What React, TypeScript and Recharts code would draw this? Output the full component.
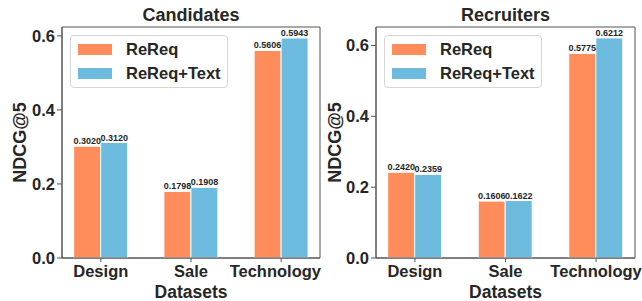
import React from 'react';
import { BarChart, Bar, XAxis, YAxis, LabelList, ReferenceArea } from 'recharts';

const categories = ['Design', 'Sale', 'Technology'];
const positions = [0, 1, 2];
const candidatesReReq = [0.302, 0.1798, 0.5606];
const candidatesText = [0.312, 0.1908, 0.5943];
const recruitersReReq = [0.242, 0.1606, 0.5775];
const recruitersText = [0.2359, 0.1622, 0.6212];
const yTicks = [0, 0.2, 0.4, 0.6];

const ORANGE = '#FF8C5A';
const BLUE = '#6EBBE0';
const TEXT = '#262626';
const FRAME = '#555555';
const FONT = '"Liberation Sans", Arial, sans-serif';

const X_DOMAIN: [number, number] = [-0.43, 2.43];

const buildRows = (a: number[], b: number[]) =>
    positions.map((x, i) => ({ x, name: categories[i], rereq: a[i], text: b[i] }));

interface PanelProps {
    title: string;
    rows: { x: number; name: string; rereq: number; text: number }[];
    yMax: number;
    yAxisWidth: number;
    rightMargin: number;
    labelDx: number;
    left: number;
}

const Panel: React.FC<PanelProps> = ({ title, rows, yMax, yAxisWidth, rightMargin, labelDx, left }) => {
    const plotLeft = yAxisWidth;
    const plotWidth = 321 - yAxisWidth - rightMargin;
    return (
        <div style={{ position: 'absolute', left, top: 0, width: 321, height: 301 }}>
            <div
                style={{
                    position: 'absolute',
                    left: plotLeft,
                    width: plotWidth,
                    top: 5,
                    textAlign: 'center',
                    fontFamily: FONT,
                    fontWeight: 'bold',
                    fontSize: 18,
                    color: TEXT,
                    lineHeight: '20px',
                }}
            >
                {title}
            </div>
            <BarChart
                width={321}
                height={301}
                data={rows}
                margin={{ top: 27, right: rightMargin, bottom: 0, left: 0 }}
                barGap={0}
            >
                <XAxis
                    type="number"
                    dataKey="x"
                    domain={X_DOMAIN}
                    allowDataOverflow
                    ticks={positions}
                    tickFormatter={(v: number) => categories[v] ?? ''}
                    height={43}
                    tickSize={4}
                    tickMargin={3}
                    stroke={FRAME}
                    tick={{ fill: TEXT, fontSize: 16.5, fontWeight: 'bold', fontFamily: FONT }}
                    label={{ value: 'Datasets', position: 'insideBottom', offset: 3, fill: TEXT, fontSize: 17.5, fontWeight: 'bold', fontFamily: FONT }}
                />
                <YAxis
                    domain={[0, yMax]}
                    allowDataOverflow
                    ticks={yTicks}
                    tickFormatter={(v: number) => v.toFixed(1)}
                    width={yAxisWidth}
                    tickSize={5}
                    tickMargin={2}
                    stroke={FRAME}
                    tick={{ fill: TEXT, fontSize: 16.5, fontWeight: 'bold', fontFamily: FONT }}
                    label={{ value: 'NDCG@5', angle: -90, position: 'center', dx: labelDx, fill: TEXT, fontSize: 18, fontWeight: 'bold', fontFamily: FONT }}
                />
                <ReferenceArea x1={X_DOMAIN[0]} x2={X_DOMAIN[1]} y1={0} y2={yMax} fill="none" stroke={FRAME} strokeWidth={1} />
                <Bar dataKey="rereq" name="ReReq" fill={ORANGE} stroke="#ffffff" strokeWidth={1} barSize={27} isAnimationActive={false}>
                    <LabelList dataKey="rereq" position="top" offset={2} formatter={(v: number) => v.toFixed(4)} style={{ fill: TEXT, fontSize: 9, fontWeight: 'bold', fontFamily: FONT }} />
                </Bar>
                <Bar dataKey="text" name="ReReq+Text" fill={BLUE} stroke="#ffffff" strokeWidth={1} barSize={27} isAnimationActive={false}>
                    <LabelList dataKey="text" position="top" offset={2} formatter={(v: number) => v.toFixed(4)} style={{ fill: TEXT, fontSize: 9, fontWeight: 'bold', fontFamily: FONT }} />
                </Bar>
            </BarChart>
            <div
                style={{
                    position: 'absolute',
                    left: plotLeft + 8,
                    top: 35,
                    width: 156,
                    height: 51,
                    border: '1px solid #d6d6d6',
                    borderRadius: 4,
                    background: 'rgba(255,255,255,0.8)',
                    fontFamily: FONT,
                    fontWeight: 'bold',
                    fontSize: 16.5,
                    color: TEXT,
                }}
            >
                {[
                    { label: 'ReReq', color: ORANGE, top: 7 },
                    { label: 'ReReq+Text', color: BLUE, top: 31 },
                ].map((item) => (
                    <div key={item.label} style={{ position: 'absolute', left: 7, top: item.top, height: 12, display: 'flex', alignItems: 'center' }}>
                        <div style={{ width: 34, height: 11, background: item.color }} />
                        <span style={{ marginLeft: 14, lineHeight: '12px', whiteSpace: 'nowrap' }}>{item.label}</span>
                    </div>
                ))}
            </div>
        </div>
    );
};

const App: React.FC = () => {
    return (
        <div style={{ position: 'fixed', left: 0, top: 0, width: 642, height: 301, background: '#ffffff' }}>
            <Panel
                title="Candidates"
                rows={buildRows(candidatesReReq, candidatesText)}
                yMax={0.624}
                yAxisWidth={62}
                rightMargin={1}
                labelDx={-11}
                left={0}
            />
            <Panel
                title="Recruiters"
                rows={buildRows(recruitersReReq, recruitersText)}
                yMax={0.652}
                yAxisWidth={55}
                rightMargin={7}
                labelDx={-14}
                left={321}
            />
        </div>
    );
};

export default App;
